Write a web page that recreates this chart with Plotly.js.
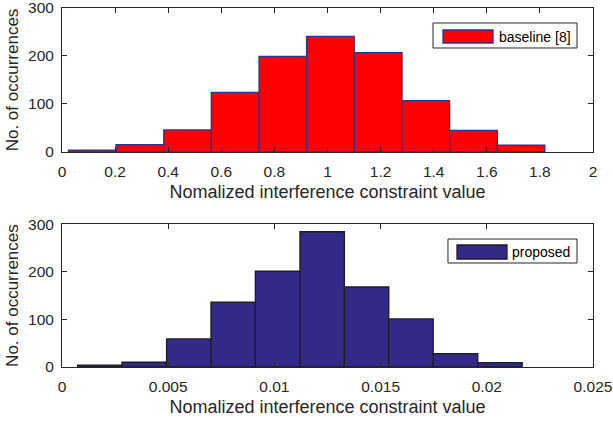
<!DOCTYPE html>
<html>
<head>
<meta charset="utf-8">
<script src="https://cdn.plot.ly/plotly-3.0.1.min.js"></script>
<style>html,body{margin:0;padding:0;background:#fff;}#chart{width:613px;height:422px;}</style>
</head>
<body>
<div id="chart"></div>
<script>
// Top histogram (baseline [8]) : bin centers and counts
var baselineCenters = [0.114, 0.293, 0.473, 0.652, 0.832, 1.011, 1.191, 1.370, 1.550, 1.729];
var baselineCounts  = [4, 15, 46, 124, 199, 241, 207, 107, 45, 14];
var baselineBinWidth = 0.1795;

// Bottom histogram (proposed)
var proposedCenters = [0.00178, 0.00387, 0.00597, 0.00806, 0.01015, 0.01225, 0.01434, 0.01643, 0.01853, 0.02062];
var proposedCounts  = [4, 10, 59, 136, 201, 284, 168, 101, 28, 9];
var proposedBinWidth = 0.002093;

var seriesNames = ['baseline [8]', 'proposed'];
var topTicks = [0, 0.2, 0.4, 0.6, 0.8, 1, 1.2, 1.4, 1.6, 1.8, 2];
var topTickText = ['0', '0.2', '0.4', '0.6', '0.8', '1', '1.2', '1.4', '1.6', '1.8', '2'];
var botTicks = [0, 0.005, 0.01, 0.015, 0.02, 0.025];
var botTickText = ['0', '0.005', '0.01', '0.015', '0.02', '0.025'];
var yTicks = [0, 100, 200, 300];
var yTickText = ['0', '100', '200', '300'];

var axisColor = '#262626';
var fontFam = 'Arial';
var redFill = '#ff0000', redEdge = '#2a3590';
var blueFill = '#332a87', blueEdge = '#1e1e1e';

var traces = [
  {
    type: 'bar', x: baselineCenters, y: baselineCounts, width: baselineBinWidth,
    name: seriesNames[0], xaxis: 'x', yaxis: 'y', showlegend: false,
    marker: {color: redFill, line: {color: redEdge, width: 1.3}}
  },
  {
    type: 'bar', x: proposedCenters, y: proposedCounts, width: proposedBinWidth,
    name: seriesNames[1], xaxis: 'x2', yaxis: 'y2', showlegend: false,
    marker: {color: blueFill, line: {color: blueEdge, width: 1.3}}
  }
];

function xax(range, tv, tt, anchor) {
  return {
    range: range, tickvals: tv, ticktext: tt, anchor: anchor,
    ticks: 'inside', ticklen: 5, tickcolor: axisColor, tickwidth: 1,
    ticklabelstandoff: 5, ticklabeloverflow: 'allow',
    showline: true, linecolor: axisColor, linewidth: 1, mirror: 'ticks',
    showgrid: false, zeroline: false,
    tickfont: {family: fontFam, size: 15.5, color: axisColor},
    title: {text: 'Nomalized interference constraint value', font: {family: fontFam, size: 18, color: axisColor}, standoff: 6},
    automargin: false
  };
}
function yax(anchor, domain) {
  return {
    range: [0, 300.01], tickvals: yTicks, ticktext: yTickText, anchor: anchor, domain: domain,
    ticks: 'inside', ticklen: 5, tickcolor: axisColor, tickwidth: 1,
    ticklabelstandoff: 4, ticklabeloverflow: 'allow',
    showline: true, linecolor: axisColor, linewidth: 1, mirror: 'ticks',
    showgrid: false, zeroline: false,
    tickfont: {family: fontFam, size: 15.5, color: axisColor},
    title: {text: 'No. of occurrences', font: {family: fontFam, size: 17, color: axisColor}, standoff: 5},
    automargin: false
  };
}

function legendBox(x0, x1, y0, y1) {
  return {type: 'rect', xref: 'paper', yref: 'paper', x0: x0, x1: x1, y0: y0, y1: y1,
          fillcolor: '#ffffff', line: {color: axisColor, width: 1}, layer: 'above'};
}
function swatch(x0, x1, y0, y1, fill, edge) {
  return {type: 'rect', xref: 'paper', yref: 'paper', x0: x0, x1: x1, y0: y0, y1: y1,
          fillcolor: fill, line: {color: edge, width: 1.3}, layer: 'above'};
}

var layout = {
  width: 613, height: 422,
  margin: {l: 62, r: 20, t: 8, b: 55},
  paper_bgcolor: '#ffffff', plot_bgcolor: '#ffffff',
  showlegend: false,
  bargap: 0,
  font: {family: fontFam},
  xaxis: xax([0, 2], topTicks, topTickText, 'y'),
  yaxis: yax('x', [0.599, 1]),
  xaxis2: xax([0, 0.025], botTicks, botTickText, 'y2'),
  yaxis2: yax('x2', [0, 0.398]),
  shapes: [
    legendBox(0.6987, 0.9699, 0.8886, 0.9582),
    swatch(0.7175, 0.8117, 0.9025, 0.9387, redFill, redEdge),
    legendBox(0.7269, 0.9699, 0.2897, 0.3565),
    swatch(0.7439, 0.8380, 0.3008, 0.3398, blueFill, blueEdge)
  ],
  annotations: [
    {xref: 'paper', yref: 'paper', x: 0.8192, y: 0.9206, xanchor: 'left', yanchor: 'middle',
     text: seriesNames[0], showarrow: false, font: {family: fontFam, size: 14, color: '#000'}},
    {xref: 'paper', yref: 'paper', x: 0.8437, y: 0.3203, xanchor: 'left', yanchor: 'middle',
     text: seriesNames[1], showarrow: false, font: {family: fontFam, size: 14, color: '#000'}}
  ]
};

Plotly.newPlot('chart', traces, layout, {displayModeBar: false, staticPlot: true});
</script>
</body>
</html>
